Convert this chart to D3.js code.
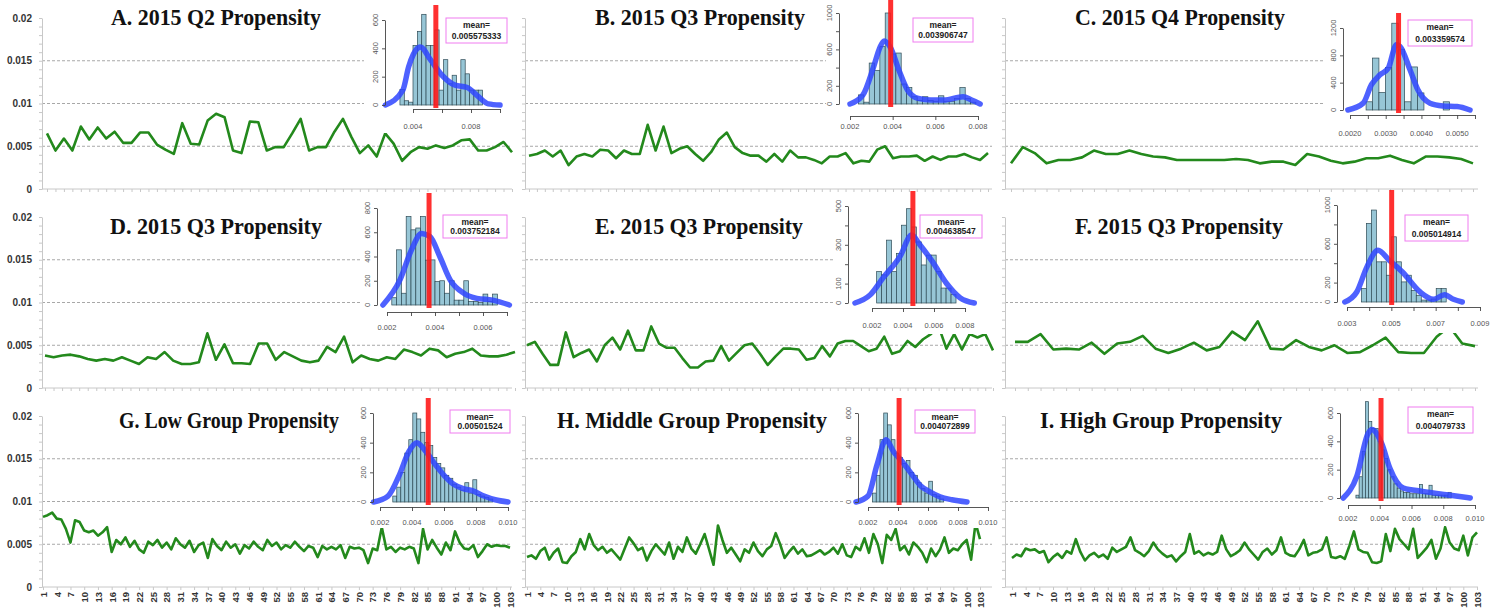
<!DOCTYPE html>
<html lang="en">
<head>
<meta charset="utf-8">
<title>Propensity panels</title>
<script src="https://cdn.jsdelivr.net/npm/d3@7/dist/d3.min.js"></script>
<style>
  body { margin: 0; background: #fff; }
  svg { display: block; }
</style>
</head>
<body>
<script>

var w = 1498;
var h = 611;

// ---------- data ----------
var titles = ["A. 2015 Q2 Propensity", "B. 2015 Q3 Propensity", "C. 2015 Q4 Propensity",
              "D. 2015 Q3 Propensity", "E. 2015 Q3 Propensity", "F. 2015 Q3 Propensity",
              "G. Low Group Propensity", "H. Middle Group Propensity", "I. High Group Propensity"];
var means = [0.005575333, 0.003906747, 0.003359574, 0.003752184, 0.004638547,
             0.005014914, 0.00501524, 0.004072899, 0.004079733];

var yTicks = [0, 0.005, 0.01, 0.015, 0.02];
var yTickLabels = ["0", "0.005", "0.01", "0.015", "0.02"];
var gridValues = [0.005, 0.01, 0.015];
var xTickLabels = [1, 4, 7, 10, 13, 16, 19, 22, 25, 28, 31, 34, 37, 40, 43, 46, 49, 52, 55, 58,
                   61, 64, 67, 70, 73, 76, 79, 82, 85, 88, 91, 94, 97, 100, 103];

var lineA = [0.0065,0.0045,0.0059,0.0045,0.0073,0.0058,0.0072,0.0059,0.0067,0.0054,
             0.0054,0.0066,0.0066,0.0052,0.0046,0.0041,0.0077,0.0053,0.0052,0.0080,
             0.0088,0.0084,0.0045,0.0042,0.0079,0.0078,0.0045,0.0049,0.0049,0.0065,
             0.0082,0.0045,0.0049,0.0049,0.0067,0.0082,0.0061,0.0042,0.0051,0.0038,
             0.0065,0.0053,0.0033,0.0043,0.0049,0.0047,0.0051,0.0048,0.0051,0.0057,
             0.0058,0.0045,0.0045,0.0049,0.0055,0.0043];
var lineB = [0.0039,0.0041,0.0045,0.0038,0.0045,0.0028,0.0038,0.0041,0.0038,0.0046,
             0.0045,0.0036,0.0045,0.0041,0.0041,0.0075,0.0045,0.0073,0.0042,0.0047,
             0.0050,0.0041,0.0033,0.0043,0.0058,0.0066,0.0049,0.0042,0.0039,0.0039,
             0.0032,0.0041,0.0032,0.0045,0.0037,0.0037,0.0034,0.0030,0.0038,0.0038,
             0.0042,0.0030,0.0033,0.0032,0.0046,0.0050,0.0036,0.0038,0.0038,0.0039,
             0.0033,0.0038,0.0034,0.0038,0.0038,0.0041,0.0037,0.0034,0.0042];
var lineC = [0.0030,0.0049,0.0042,0.0030,0.0034,0.0034,0.0037,0.0045,0.0041,0.0041,
             0.0045,0.0041,0.0038,0.0037,0.0034,0.0034,0.0034,0.0034,0.0034,0.0035,
             0.0034,0.0030,0.0032,0.0032,0.0028,0.0041,0.0038,0.0033,0.0030,0.0032,
             0.0036,0.0036,0.0039,0.0034,0.0030,0.0038,0.0038,0.0037,0.0035,0.0030];
var lineD = [0.0038,0.0036,0.0038,0.0039,0.0037,0.0034,0.0032,0.0034,0.0032,0.0036,
             0.0032,0.0028,0.0036,0.0034,0.0042,0.0032,0.0028,0.0028,0.0030,0.0064,
             0.0033,0.0051,0.0029,0.0029,0.0028,0.0052,0.0052,0.0033,0.0042,0.0037,
             0.0032,0.0030,0.0032,0.0048,0.0042,0.0060,0.0030,0.0038,0.0034,0.0032,
             0.0036,0.0034,0.0045,0.0042,0.0038,0.0046,0.0044,0.0036,0.0040,0.0042,
             0.0046,0.0038,0.0037,0.0037,0.0039,0.0042];
var lineE = [0.0050,0.0054,0.0040,0.0027,0.0027,0.0065,0.0036,0.0041,0.0045,0.0031,
             0.0050,0.0059,0.0045,0.0067,0.0044,0.0044,0.0072,0.0052,0.0047,0.0047,
             0.0035,0.0024,0.0024,0.0031,0.0032,0.0049,0.0032,0.0041,0.0050,0.0052,
             0.0040,0.0027,0.0037,0.0046,0.0046,0.0045,0.0033,0.0035,0.0049,0.0037,
             0.0052,0.0055,0.0055,0.0049,0.0043,0.0046,0.0060,0.0040,0.0043,0.0055,
             0.0048,0.0057,0.0063,0.0072,0.0046,0.0063,0.0045,0.0063,0.0059,0.0063,
             0.0044];
var lineF = [0.0054,0.0054,0.0063,0.0045,0.0046,0.0045,0.0053,0.0040,0.0052,0.0054,
             0.0061,0.0046,0.0041,0.0046,0.0053,0.0044,0.0048,0.0066,0.0056,0.0078,
             0.0046,0.0045,0.0056,0.0048,0.0044,0.0050,0.0041,0.0042,0.0050,0.0059,
             0.0042,0.0041,0.0041,0.0060,0.0072,0.0052,0.0049];
var lineG = [0.0082,0.0084,0.0087,0.0080,0.0079,0.0068,0.0052,0.0078,0.0076,0.0066,
             0.0064,0.0066,0.0060,0.0064,0.0070,0.0041,0.0055,0.0050,0.0058,0.0047,
             0.0054,0.0044,0.0040,0.0053,0.0049,0.0055,0.0046,0.0052,0.0044,0.0057,
             0.0050,0.0046,0.0054,0.0041,0.0049,0.0052,0.0034,0.0056,0.0048,0.0043,
             0.0053,0.0046,0.0050,0.0039,0.0049,0.0045,0.0053,0.0047,0.0043,0.0055,
             0.0048,0.0052,0.0044,0.0049,0.0046,0.0053,0.0047,0.0042,0.0048,0.0046,
             0.0035,0.0048,0.0044,0.0047,0.0044,0.0049,0.0034,0.0047,0.0045,0.0046,
             0.0043,0.0028,0.0045,0.0043,0.0070,0.0044,0.0047,0.0041,0.0046,0.0044,
             0.0047,0.0045,0.0028,0.0068,0.0044,0.0055,0.0046,0.0038,0.0052,0.0043,
             0.0065,0.0052,0.0045,0.0044,0.0049,0.0035,0.0042,0.0050,0.0047,0.0049,
             0.0048,0.0048,0.0046];
var lineH = [0.0035,0.0037,0.0033,0.0042,0.0046,0.0032,0.0040,0.0045,0.0029,0.0028,
             0.0036,0.0041,0.0056,0.0044,0.0062,0.0049,0.0043,0.0047,0.0040,0.0044,
             0.0038,0.0032,0.0045,0.0058,0.0051,0.0043,0.0046,0.0031,0.0042,0.0050,
             0.0044,0.0038,0.0052,0.0033,0.0047,0.0041,0.0058,0.0045,0.0039,0.0050,
             0.0062,0.0044,0.0026,0.0072,0.0055,0.0040,0.0046,0.0038,0.0030,0.0044,
             0.0040,0.0052,0.0042,0.0036,0.0044,0.0048,0.0063,0.0050,0.0034,0.0041,
             0.0047,0.0039,0.0044,0.0036,0.0037,0.0040,0.0043,0.0038,0.0041,0.0046,
             0.0039,0.0050,0.0037,0.0035,0.0047,0.0043,0.0057,0.0040,0.0062,0.0050,
             0.0028,0.0061,0.0055,0.0068,0.0043,0.0048,0.0038,0.0052,0.0047,0.0040,
             0.0029,0.0045,0.0036,0.0044,0.0058,0.0040,0.0045,0.0043,0.0050,0.0055,
             0.0032,0.0075,0.0056];
var lineI = [0.0034,0.0038,0.0036,0.0045,0.0043,0.0044,0.0040,0.0042,0.0029,0.0035,
             0.0039,0.0034,0.0042,0.0039,0.0056,0.0041,0.0031,0.0037,0.0040,0.0035,
             0.0038,0.0033,0.0046,0.0041,0.0044,0.0047,0.0058,0.0043,0.0040,0.0036,
             0.0042,0.0052,0.0044,0.0039,0.0035,0.0037,0.0030,0.0036,0.0041,0.0062,
             0.0039,0.0042,0.0037,0.0040,0.0038,0.0041,0.0060,0.0044,0.0036,0.0039,
             0.0043,0.0052,0.0044,0.0038,0.0032,0.0041,0.0045,0.0038,0.0043,0.0058,
             0.0040,0.0037,0.0036,0.0044,0.0055,0.0037,0.0040,0.0041,0.0044,0.0058,
             0.0035,0.0034,0.0036,0.0033,0.0048,0.0065,0.0044,0.0041,0.0040,0.0029,
             0.0028,0.0030,0.0062,0.0042,0.0068,0.0056,0.0050,0.0044,0.0068,0.0034,
             0.0040,0.0046,0.0055,0.0033,0.0045,0.0070,0.0052,0.0045,0.0043,0.0060,
             0.0037,0.0058,0.0064];

// histogram counts of each inset, with first bin start and bin width
var histStart = [0.0031, 0.0024, 0.00245, 0.0022, 0.0023, 0.00365, 0.0028, 0.0023, 0.0025];
var histWidth = [0.0003, 0.00025, 0.00018, 0.0002, 0.00032, 0.000225, 0.00025, 0.00025, 0.0002];
var histA = [110,30,20,420,520,640,420,420,530,105,320,150,210,105,320,220,105,105,105];
var histB = [100,20,450,370,630,1000,550,560,220,180,80,40,80,40,30,90,30,30,60,180,60,20];
var histC = [120,760,255,620,1270,890,120,630,250,0,0,0,120,0];
var histD = [60,455,97,730,620,635,730,370,372,193,200,97,200,40,40,200,30,30,20,90,30,90];
var histE = [162,145,324,162,256,401,486,392,315,196,247,247,162,77,77,43];
var histF = [138,810,948,414,414,276,672,414,207,276,120,69,20,20,30,138,138];
var histG = [40,100,200,330,420,600,560,470,400,380,300,260,230,180,160,120,100,80,130,60,150,50,40,30,20];
var histH = [60,180,420,600,520,420,330,300,260,280,200,180,130,90,60,140,50,40,20];
var histI = [20,150,330,680,540,490,490,400,340,280,200,150,100,70,50,40,40,30,30,30,95,30,30,90,20,20,20,20,20,40];

// density curves [value, count]
var kdeA = [[0.0021,0],[0.0033,105],[0.0037,270],[0.0043,400],[0.0045,410],[0.0052,320],[0.0060,210],
            [0.0069,140],[0.0077,125],[0.0085,60],[0.0092,8],[0.0100,0]];
var kdeB = [[0.0020,0],[0.0026,97],[0.0031,404],[0.0034,620],[0.0036,693],[0.0039,620],[0.0043,368],
            [0.0047,152],[0.0052,61],[0.0058,43],[0.0064,43],[0.0073,80],[0.0077,43],[0.0081,0]];
var kdeC = [[0.00194,0],[0.00237,100],[0.0026,370],[0.00284,515],[0.00307,610],[0.0033,955],[0.0034,930],
            [0.00368,590],[0.0039,295],[0.00424,100],[0.0046,60],[0.0050,50],[0.00536,0]];
var kdeD = [[0.00183,0],[0.00254,207],[0.00302,455],[0.00344,590],[0.00379,565],[0.0042,400],[0.00463,207],
            [0.0052,97],[0.00574,55],[0.0064,40],[0.0071,0]];
var kdeE = [[0.0009,0],[0.0019,43],[0.0027,128],[0.0038,239],[0.00456,350],[0.0051,299],[0.0059,213],
            [0.0068,102],[0.0077,26],[0.0086,0]];
var kdeF = [[0.0029,0],[0.00344,103],[0.0039,362],[0.0044,534],[0.0049,431],[0.0055,310],[0.0063,103],
            [0.0069,28],[0.0074,76],[0.0078,28],[0.0082,0]];
var kdeG = [[0.0016,0],[0.0025,40],[0.0032,180],[0.0038,340],[0.0043,400],[0.0048,350],[0.0054,260],
            [0.0060,180],[0.0066,120],[0.0072,90],[0.0078,75],[0.0085,40],[0.0092,15],[0.0100,0]];
var kdeH = [[0.0012,0],[0.0020,40],[0.0026,250],[0.0032,420],[0.0037,340],[0.0043,270],[0.0049,190],
            [0.0055,110],[0.0061,70],[0.0068,35],[0.0076,15],[0.0086,0]];
var kdeI = [[0.0017,0],[0.00255,152],[0.00326,455],[0.0035,484],[0.00412,385],[0.00464,210],[0.0055,70],
            [0.0067,47],[0.0082,23],[0.0097,0]];

// inset axis ticks and labels
var insetXTicks = [[0.004,0.006,0.008,0.010],[0.002,0.004,0.006,0.008],
                   [0.002,0.0025,0.003,0.0035,0.004,0.0045,0.005,0.0055],
                   [0.002,0.003,0.004,0.005,0.006,0.007],[0.002,0.004,0.006,0.008],
                   [0.003,0.004,0.005,0.006,0.007,0.008,0.009],
                   [0.002,0.004,0.006,0.008,0.010],[0.002,0.004,0.006,0.008,0.010],
                   [0.002,0.004,0.006,0.008,0.010]];
var insetXLabels = [[[0.004,"0.004"],[0.008,"0.008"]],
                    [[0.002,"0.002"],[0.004,"0.004"],[0.006,"0.006"],[0.008,"0.008"]],
                    [[0.002,"0.0020"],[0.003,"0.0030"],[0.004,"0.0040"],[0.005,"0.0050"]],
                    [[0.002,"0.002"],[0.004,"0.004"],[0.006,"0.006"]],
                    [[0.002,"0.002"],[0.004,"0.004"],[0.006,"0.006"],[0.008,"0.008"]],
                    [[0.003,"0.003"],[0.005,"0.005"],[0.007,"0.007"],[0.009,"0.009"]],
                    [[0.002,"0.002"],[0.004,"0.004"],[0.006,"0.006"],[0.008,"0.008"],[0.010,"0.010"]],
                    [[0.002,"0.002"],[0.004,"0.004"],[0.006,"0.006"],[0.008,"0.008"],[0.010,"0.010"]],
                    [[0.002,"0.002"],[0.004,"0.004"],[0.006,"0.006"],[0.008,"0.008"],[0.010,"0.010"]]];
var insetYTicks = [[0,200,400,600],[0,200,400,600,800,1000],[0,400,800,1200],[0,200,400,600,800],
                   [0,100,200,300,400,500],[0,200,400,600,800,1000],[0,200,400,600],[0,200,400,600],
                   [0,200,400,600]];
var insetYLabels = [[0,200,400,600],[0,200,600,1000],[0,400,800,1200],[0,200,400,600,800],
                    [0,100,300,500],[0,200,600,1000],[0,200,400,600],[0,200,400,600],[0,200,400,600]];

// ---------- layout ----------
var rowGeo = [{top: 18, base: 189, titleY: 25}, {top: 217, base: 388, titleY: 234}, {top: 416, base: 587, titleY: 428}];
var colGeo = [{axis: 42, right: 512}, {axis: 525, right: 992}, {axis: 1005, right: 1478}];
var lineSpan = [[47,512],[529,988],[1011,1473],[45,515],[527,993],[1015,1475],[43,510],[527,980],[1012,1477]];
var titleX = [216, 700, 1180, 216, 699, 1179, 229, 692, 1161];
var titleW = [210, 210, 210, 212, 208, 208, 220, 270, 242];

// inset frames: x scale (v0->p0, v1->p1), y scale (0->base, cMax->pMax)
var insetGeo = [
  {v0: 0.004, p0: 413, v1: 0.010, p1: 500, base: 105, cMax: 600, pMax: 20, yx: 385, xy: 109, ly: 129, bg: [364, 0, 152, 133], box: [446, 18, 61, 25]},
  {v0: 0.002, p0: 850, v1: 0.008, p1: 978, base: 104, cMax: 1000, pMax: 13, yx: 839, xy: 116, ly: 129, bg: [826, 0, 170, 133], box: [913, 18, 60, 24]},
  {v0: 0.002, p0: 1350, v1: 0.0055, p1: 1475, base: 110, cMax: 1200, pMax: 28, yx: 1343, xy: 115, ly: 136, bg: [1325, 0, 173, 142], box: [1408, 20, 64, 26]},
  {v0: 0.002, p0: 387, v1: 0.007, p1: 507, base: 305, cMax: 800, pMax: 208, yx: 377, xy: 312, ly: 330, bg: [360, 199, 157, 135], box: [443, 215, 64, 23]},
  {v0: 0.002, p0: 872, v1: 0.008, p1: 965, base: 303, cMax: 500, pMax: 206, yx: 848, xy: 308, ly: 328, bg: [835, 199, 160, 135], box: [920, 215, 62, 23]},
  {v0: 0.003, p0: 1347, v1: 0.009, p1: 1480, base: 302, cMax: 1000, pMax: 205, yx: 1337, xy: 307, ly: 326, bg: [1322, 199, 176, 134], box: [1405, 215, 63, 26]},
  {v0: 0.002, p0: 380, v1: 0.010, p1: 508, base: 502, cMax: 600, pMax: 413, yx: 373, xy: 507, ly: 525, bg: [360, 399, 156, 129], box: [450, 410, 60, 23]},
  {v0: 0.002, p0: 868, v1: 0.010, p1: 988, base: 502, cMax: 600, pMax: 413, yx: 858, xy: 507, ly: 525, bg: [845, 399, 153, 129], box: [915, 410, 60, 23]},
  {v0: 0.002, p0: 1348, v1: 0.010, p1: 1475, base: 498, cMax: 600, pMax: 413, yx: 1340, xy: 505, ly: 521, bg: [1325, 399, 173, 127], box: [1408, 407, 65, 26]}
];

var lines = [lineA, lineB, lineC, lineD, lineE, lineF, lineG, lineH, lineI];
var hists = [histA, histB, histC, histD, histE, histF, histG, histH, histI];
var kdes = [kdeA, kdeB, kdeC, kdeD, kdeE, kdeF, kdeG, kdeH, kdeI];

var svg = d3.select("body")
    .append("svg")
    .attr("width", w)
    .attr("height", h)
    .style("font-family", "'Liberation Sans', Arial, sans-serif");

svg.append("rect").attr("width", w).attr("height", h).attr("fill", "#fff");

for (var i = 0; i < 9; i++) {
  var r = Math.floor(i / 3), c = i % 3;
  var rg = rowGeo[r], cg = colGeo[c];
  var data = lines[i];

  var y = d3.scaleLinear().domain([0, 0.02]).range([rg.base, rg.top]);
  var x = d3.scaleLinear().domain([0, data.length - 1]).range(lineSpan[i]);

  var g = svg.append("g");

  // dashed gridlines
  g.selectAll("line.grid")
    .data(gridValues)
    .enter().append("line")
      .attr("x1", cg.axis).attr("x2", cg.right)
      .attr("y1", function(d) { return y(d); })
      .attr("y2", function(d) { return y(d); })
      .attr("stroke", "#a8a8a8")
      .attr("stroke-width", 1)
      .attr("stroke-dasharray", "3,2");

  // y axis
  var yAxis = d3.axisLeft(y)
    .tickValues(d3.range(0, 0.0201, 0.001))
    .tickSize(3).tickSizeOuter(0)
    .tickFormat("");
  var ya = g.append("g").attr("transform", "translate(" + cg.axis + ",0)").call(yAxis);
  ya.selectAll("path, line").attr("stroke", "#c8c8c8");

  if (c === 0) {
    g.selectAll("text.ylab")
      .data(yTicks)
      .enter().append("text")
        .attr("x", 32)
        .attr("y", function(d) { return y(d); })
        .attr("dy", "0.35em")
        .attr("text-anchor", "end")
        .attr("font-size", 10)
        .attr("font-weight", "bold")
        .attr("fill", "#333")
        .text(function(d, k) { return yTickLabels[k]; });
  }

  // x axis
  var bottomRow = (r === 2);
  var xAxis = d3.axisBottom(x)
    .tickValues(bottomRow ? xTickLabels.map(function(d) { return d - 1; }) : d3.range(data.length))
    .tickSize(3).tickSizeOuter(0)
    .tickFormat(bottomRow ? function(d) { return d + 1; } : "");
  var xa = g.append("g").attr("transform", "translate(0," + rg.base + ")").call(xAxis);
  xa.select("path.domain").attr("d", "M" + cg.axis + ",0H" + cg.right);
  xa.selectAll("path, line").attr("stroke", "#c8c8c8");
  if (bottomRow) {
    xa.selectAll("text")
      .attr("transform", "rotate(-90)")
      .attr("x", -5)
      .attr("y", 0)
      .attr("dy", "0.35em")
      .attr("text-anchor", "end")
      .attr("font-size", 9.5)
      .attr("font-weight", "bold")
      .attr("fill", "#333");
  }

  // series line
  g.append("path")
    .datum(data)
    .attr("fill", "none")
    .attr("stroke", "#23891c")
    .attr("stroke-width", 2.6)
    .attr("stroke-linejoin", "round")
    .attr("d", d3.line()
      .x(function(d, k) { return x(k); })
      .y(function(d) { return y(d); }));

  // title
  g.append("text")
    .attr("x", titleX[i])
    .attr("y", rg.titleY)
    .attr("text-anchor", "middle")
    .attr("font-family", "'Liberation Serif', 'Times New Roman', serif")
    .attr("font-weight", "bold")
    .attr("font-size", 23)
    .attr("textLength", titleW[i])
    .attr("lengthAdjust", "spacingAndGlyphs")
    .attr("fill", "#111")
    .text(titles[i]);

  // ---------- inset histogram ----------
  var ig = insetGeo[i];
  var ix = d3.scaleLinear().domain([ig.v0, ig.v1]).range([ig.p0, ig.p1]);
  var iy = d3.scaleLinear().domain([0, ig.cMax]).range([ig.base, ig.pMax]);
  var gi = svg.append("g");

  gi.append("rect")
    .attr("x", ig.bg[0]).attr("y", ig.bg[1])
    .attr("width", ig.bg[2]).attr("height", ig.bg[3])
    .attr("fill", "#fff");

  var hs = histStart[i], hw = histWidth[i];
  gi.selectAll("rect.bar")
    .data(hists[i])
    .enter().append("rect")
      .attr("x", function(d, k) { return ix(hs + k * hw); })
      .attr("width", ix(hs + hw) - ix(hs))
      .attr("y", function(d) { return iy(d); })
      .attr("height", function(d) { return ig.base - iy(d); })
      .attr("fill", "#97c6d6")
      .attr("stroke", "#2e4a55")
      .attr("stroke-width", 0.7);

  gi.append("path")
    .datum(kdes[i])
    .attr("fill", "none")
    .attr("stroke", "#2f45ff")
    .attr("stroke-opacity", 0.85)
    .attr("stroke-width", 5.5)
    .attr("stroke-linecap", "round")
    .attr("d", d3.line()
      .curve(d3.curveMonotoneX)
      .x(function(d) { return ix(d[0]); })
      .y(function(d) { return iy(d[1]); }));

  gi.append("line")
    .attr("x1", ix(means[i])).attr("x2", ix(means[i]))
    .attr("y1", ig.pMax - 15).attr("y2", ig.base + 3)
    .attr("stroke", "#ff1a1a")
    .attr("stroke-opacity", 0.9)
    .attr("stroke-width", 5);

  // inset axes
  gi.append("g")
    .attr("transform", "translate(" + ig.yx + ",0)")
    .call(d3.axisLeft(iy).tickValues(insetYTicks[i]).tickSize(3).tickSizeOuter(0).tickFormat(""));
  gi.append("g")
    .attr("transform", "translate(0," + ig.xy + ")")
    .call(d3.axisBottom(ix).tickValues(insetXTicks[i]).tickSize(4).tickSizeOuter(0).tickFormat(""));
  gi.selectAll("path.domain, .tick line").attr("stroke", "#444").attr("stroke-width", 0.9);

  gi.selectAll("text.iyl")
    .data(insetYLabels[i])
    .enter().append("text")
      .attr("transform", function(d) { return "translate(" + (ig.yx - 7) + "," + iy(d) + ") rotate(-90)"; })
      .attr("text-anchor", "middle")
      .attr("font-size", 7.5)
      .attr("fill", "#555")
      .text(function(d) { return d; });

  gi.selectAll("text.ixl")
    .data(insetXLabels[i])
    .enter().append("text")
      .attr("x", function(d) { return ix(d[0]); })
      .attr("y", ig.ly)
      .attr("text-anchor", "middle")
      .attr("font-size", 7.5)
      .attr("fill", "#555")
      .text(function(d) { return d[1]; });

  // mean box
  var bx = ig.box;
  gi.append("rect")
    .attr("x", bx[0]).attr("y", bx[1])
    .attr("width", bx[2]).attr("height", bx[3])
    .attr("fill", "#fff")
    .attr("stroke", "#f07cf0")
    .attr("stroke-width", 1);
  gi.append("text")
    .attr("x", bx[0] + bx[2] / 2).attr("y", bx[1] + 9.5)
    .attr("text-anchor", "middle")
    .attr("font-size", 8.5).attr("font-weight", "bold").attr("fill", "#222")
    .text("mean=");
  gi.append("text")
    .attr("x", bx[0] + bx[2] / 2).attr("y", bx[1] + bx[3] - 4)
    .attr("text-anchor", "middle")
    .attr("font-size", 8.5).attr("font-weight", "bold").attr("fill", "#222")
    .text(String(means[i]));
}

</script>
</body>
</html>
